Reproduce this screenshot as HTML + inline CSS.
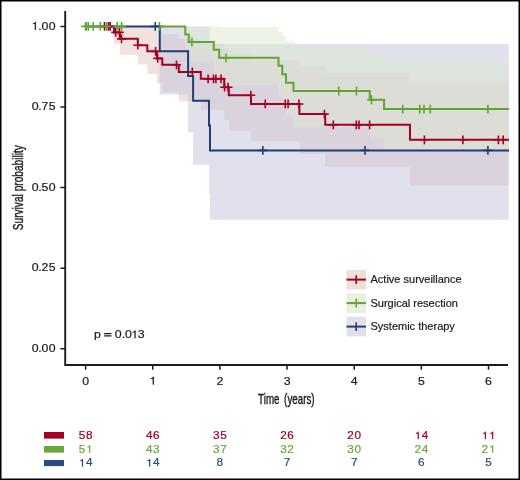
<!DOCTYPE html>
<html><head><meta charset="utf-8"><style>
html,body{margin:0;padding:0;background:#fff;}
svg{display:block;will-change:transform;}
text{font-family:"Liberation Sans",sans-serif;}
</style></head><body>
<svg width="520" height="480" viewBox="0 0 520 480">
<rect x="0" y="0" width="520" height="480" fill="#fff"/>
<path d="M114.00,26.40L114.00,26.40L120.00,26.40L120.00,26.40L137.80,26.40L137.80,26.40L147.30,26.40L147.30,26.89L157.00,26.89L157.00,30.42L162.30,30.42L162.30,34.36L178.80,34.36L178.80,38.66L200.80,38.66L200.80,43.27L224.20,43.27L224.20,48.33L228.80,48.33L228.80,53.82L251.00,53.82L251.00,59.70L299.40,59.70L299.40,66.21L325.20,66.21L325.20,73.28L410.00,73.28L410.00,81.08L508.75,81.08L508.75,185.49L410.00,185.49L410.00,166.64L325.20,166.64L325.20,153.89L299.40,153.89L299.40,141.35L251.00,141.35L251.00,130.72L228.80,130.72L228.80,120.19L224.20,120.19L224.20,110.14L200.80,110.14L200.80,101.16L178.80,101.16L178.80,92.18L162.30,92.18L162.30,83.15L157.00,83.15L157.00,73.99L147.30,73.99L147.30,64.58L137.80,64.58L137.80,54.69L120.00,54.69L120.00,43.75L114.00,43.75Z" fill="rgb(241,226,223)" fill-opacity="1.0"/>
<path d="M159.75,26.40L159.75,26.40L188.10,26.40L188.10,26.40L193.10,26.40L193.10,26.40L209.00,26.40L209.00,28.11L210.00,28.11L210.00,43.88L508.75,43.88L508.75,219.68L210.00,219.68L210.00,193.43L209.00,193.43L209.00,164.64L193.10,164.64L193.10,132.42L188.10,132.42L188.10,94.41L159.75,94.41Z" fill="rgb(195,195,219)" fill-opacity="0.5"/>
<path d="M185.30,26.40L185.30,26.40L188.75,26.40L188.75,26.40L213.75,26.40L213.75,26.40L219.20,26.40L219.20,27.03L278.50,27.03L278.50,31.46L282.25,31.46L282.25,36.37L286.00,36.37L286.00,41.65L293.50,41.65L293.50,47.35L369.75,47.35L369.75,53.51L384.10,53.51L384.10,60.12L508.75,60.12L508.75,149.91L384.10,149.91L384.10,138.50L369.75,138.50L369.75,127.26L293.50,127.26L293.50,116.64L286.00,116.64L286.00,106.53L282.25,106.53L282.25,96.04L278.50,96.04L278.50,85.08L219.20,85.08L219.20,73.90L213.75,73.90L213.75,61.82L188.75,61.82L188.75,48.59L185.30,48.59Z" fill="rgb(219,231,207)" fill-opacity="0.5"/>
<path d="M111.00,26.40H114.00V32.40H120.00V38.85H137.80V45.20H147.30V51.35H157.00V58.40H162.30V64.85H178.80V71.95H200.80V78.85H224.20V87.20H228.80V95.20H251.00V103.95H299.40V114.10H325.20V124.85H410.00V139.80H509.00" stroke="#a40026" stroke-width="2.0" fill="none"/>
<path d="M159.00,26.40H185.30V34.50H188.75V42.00H213.75V49.70H219.20V57.85H278.50V65.80H282.25V74.20H286.00V82.70H293.50V91.00H369.75V99.75H384.10V109.04H509.00" stroke="#60a535" stroke-width="2.0" fill="none"/>
<path d="M85.60,26.40H159.75V51.20H188.10V75.99H193.10V100.79H209.00V125.58H210.00V150.38H509.00" stroke="#1f3e76" stroke-width="2.0" fill="none"/>
<path d="M100.10,26.40H108.90M104.50,22.00V30.80M100.10,26.40H108.90M104.50,22.00V30.80M104.00,26.40H112.80M108.40,22.00V30.80M105.80,26.40H114.60M110.20,22.00V30.80M111.20,32.40H120.00M115.60,28.00V36.80M115.00,32.40H123.80M119.40,28.00V36.80M117.10,38.85H125.90M121.50,34.45V43.25M133.40,45.20H142.20M137.80,40.80V49.60M151.20,51.35H160.00M155.60,46.95V55.75M153.30,58.40H162.10M157.70,54.00V62.80M172.10,64.85H180.90M176.50,60.45V69.25M187.90,71.95H196.70M192.30,67.55V76.35M203.70,78.85H212.50M208.10,74.45V83.25M209.10,78.85H217.90M213.50,74.45V83.25M211.50,78.85H220.30M215.90,74.45V83.25M216.60,78.85H225.40M221.00,74.45V83.25M220.20,87.20H229.00M224.60,82.80V91.60M223.70,87.20H232.50M228.10,82.80V91.60M246.40,95.20H255.20M250.80,90.80V99.60M260.85,103.95H269.65M265.25,99.55V108.35M280.85,103.95H289.65M285.25,99.55V108.35M283.70,103.95H292.50M288.10,99.55V108.35M294.60,103.95H303.40M299.00,99.55V108.35M320.00,114.10H328.80M324.40,109.70V118.50M328.90,124.85H337.70M333.30,120.45V129.25M351.90,124.85H360.70M356.30,120.45V129.25M351.90,124.85H360.70M356.30,120.45V129.25M354.60,124.85H363.40M359.00,120.45V129.25M365.20,124.85H374.00M369.60,120.45V129.25M365.20,124.85H374.00M369.60,120.45V129.25M420.00,139.80H428.80M424.40,135.40V144.20M458.50,139.80H467.30M462.90,135.40V144.20M458.50,139.80H467.30M462.90,135.40V144.20M494.00,139.80H502.80M498.40,135.40V144.20M498.80,139.80H507.60M503.20,135.40V144.20" stroke="#a40026" stroke-width="1.6" fill="none"/>
<path d="M81.10,26.40H89.90M85.50,22.00V30.80M81.80,26.40H90.60M86.20,22.00V30.80M83.90,26.40H92.70M88.30,22.00V30.80M88.80,26.40H97.60M93.20,22.00V30.80M95.90,26.40H104.70M100.30,22.00V30.80M102.10,26.40H110.90M106.50,22.00V30.80M112.80,26.40H121.60M117.20,22.00V30.80M117.20,26.40H126.00M121.60,22.00V30.80M155.00,26.40H163.80M159.40,22.00V30.80M187.50,42.00H196.30M191.90,37.60V46.40M221.60,57.85H230.40M226.00,53.45V62.25M334.35,91.00H343.15M338.75,86.60V95.40M352.10,91.00H360.90M356.50,86.60V95.40M367.10,99.75H375.90M371.50,95.35V104.15M398.35,109.04H407.15M402.75,104.64V113.44M415.35,109.04H424.15M419.75,104.64V113.44M419.60,109.04H428.40M424.00,104.64V113.44M425.85,109.04H434.65M430.25,104.64V113.44M483.50,109.04H492.30M487.90,104.64V113.44" stroke="#60a535" stroke-width="1.6" fill="none"/>
<path d="M150.85,26.40H159.65M155.25,22.00V30.80M258.45,150.38H267.25M262.85,145.98V154.78M360.60,150.38H369.40M365.00,145.98V154.78M483.50,150.38H492.30M487.90,145.98V154.78" stroke="#1f3e76" stroke-width="1.6" fill="none"/>
<path d="M65.2,11V365H508" stroke="#1c1c1c" stroke-width="1.9" fill="none"/>
<path d="M60.4,26.40H65.2M60.4,106.99H65.2M60.4,187.57H65.2M60.4,268.16H65.2M60.4,348.75H65.2M85.60,365V369.7M152.75,365V369.7M219.90,365V369.7M287.05,365V369.7M354.20,365V369.7M421.35,365V369.7M488.50,365V369.7" stroke="#1c1c1c" stroke-width="1.5" fill="none"/>
<polygon points="35.90,29.73 35.90,21.93 35.04,21.93 34.72,22.69 33.98,23.13 32.96,23.26 32.96,24.01 34.82,24.01 34.82,29.73" fill="#1c1c1c" stroke="#1c1c1c" stroke-width="0.2" stroke-linejoin="round"/>
<text transform="scale(1.12,1)" x="34.05 36.99 43.64" y="29.73" font-size="11" fill="#1c1c1c" stroke="#1c1c1c" stroke-width="0.2">.00</text>
<text transform="scale(1.12,1)" x="28.28 34.05 36.98 43.65" y="110.32" font-size="11" fill="#1c1c1c" stroke="#1c1c1c" stroke-width="0.2">0.75</text>
<text transform="scale(1.12,1)" x="28.28 34.05 37.00 43.64" y="190.91" font-size="11" fill="#1c1c1c" stroke="#1c1c1c" stroke-width="0.2">0.50</text>
<text transform="scale(1.12,1)" x="28.28 34.05 36.99 43.65" y="271.49" font-size="11" fill="#1c1c1c" stroke="#1c1c1c" stroke-width="0.2">0.25</text>
<text transform="scale(1.12,1)" x="28.28 34.05 36.99 43.64" y="352.08" font-size="11" fill="#1c1c1c" stroke="#1c1c1c" stroke-width="0.2">0.00</text>
<text transform="scale(1.12,1)" x="73.37" y="384.60" font-size="11" fill="#1c1c1c" stroke="#1c1c1c" stroke-width="0.2">0</text>
<polygon points="153.82,384.60 153.82,376.80 152.96,376.80 152.64,377.56 151.90,378.00 150.88,378.13 150.88,378.88 152.74,378.88 152.74,384.60" fill="#1c1c1c" stroke="#1c1c1c" stroke-width="0.2" stroke-linejoin="round"/>
<text transform="scale(1.12,1)" x="193.28" y="384.60" font-size="11" fill="#1c1c1c" stroke="#1c1c1c" stroke-width="0.2">2</text>
<text transform="scale(1.12,1)" x="253.27" y="384.60" font-size="11" fill="#1c1c1c" stroke="#1c1c1c" stroke-width="0.2">3</text>
<text transform="scale(1.12,1)" x="313.23" y="384.60" font-size="11" fill="#1c1c1c" stroke="#1c1c1c" stroke-width="0.2">4</text>
<text transform="scale(1.12,1)" x="373.16" y="384.60" font-size="11" fill="#1c1c1c" stroke="#1c1c1c" stroke-width="0.2">5</text>
<text transform="scale(1.12,1)" x="433.06" y="384.60" font-size="11" fill="#1c1c1c" stroke="#1c1c1c" stroke-width="0.2">6</text>
<text transform="translate(258.3,404.4) scale(0.7,1)" x="-0.3" font-size="14" stroke="#1c1c1c" stroke-width="0.4" fill="#1c1c1c">Time</text>
<text transform="translate(313.9,404.4) scale(0.7,1)" x="1.0" text-anchor="end" font-size="14" stroke="#1c1c1c" stroke-width="0.4" fill="#1c1c1c">(years)</text>
<text transform="translate(23.2,187.7) rotate(-90) scale(0.724,1)" text-anchor="middle" font-size="14" stroke="#1c1c1c" stroke-width="0.4" fill="#1c1c1c">Survival probability</text>
<text transform="scale(1.12,1)" x="84.01" y="338.30" font-size="11" fill="#1c1c1c" stroke="#1c1c1c" stroke-width="0.2">p</text>
<path d="M104.1,333.6H111.5M104.1,335.8H111.5" stroke="#1c1c1c" stroke-width="1.25" fill="none"/>
<polygon points="135.62,338.30 135.62,330.50 134.76,330.50 134.44,331.26 133.70,331.70 132.68,331.83 132.68,332.58 134.54,332.58 134.54,338.30" fill="#1c1c1c" stroke="#1c1c1c" stroke-width="0.2" stroke-linejoin="round"/>
<text transform="scale(1.12,1)" x="102.43 108.74 111.54 123.09" y="338.30" font-size="11" fill="#1c1c1c" stroke="#1c1c1c" stroke-width="0.2">0.03</text>
<rect x="346.5" y="269.80" width="19.5" height="19.6" fill="rgb(240,223,217)"/>
<path d="M346.5,279.60H366" stroke="#a40026" stroke-width="2" fill="none"/>
<path d="M356.2,275.30V283.90" stroke="#a40026" stroke-width="1.6" fill="none"/>
<text x="370.5" y="283.40" font-size="11" fill="#1c1c1c" stroke="#1c1c1c" stroke-width="0.2">Active surveillance</text>
<rect x="346.5" y="293.30" width="19.5" height="19.6" fill="rgb(232,240,226)"/>
<path d="M346.5,303.10H366" stroke="#60a535" stroke-width="2" fill="none"/>
<path d="M356.2,298.80V307.40" stroke="#60a535" stroke-width="1.6" fill="none"/>
<text x="370.5" y="306.90" font-size="11" fill="#1c1c1c" stroke="#1c1c1c" stroke-width="0.2">Surgical resection</text>
<rect x="346.5" y="316.80" width="19.5" height="19.6" fill="rgb(225,225,236)"/>
<path d="M346.5,326.60H366" stroke="#1f3e76" stroke-width="2" fill="none"/>
<path d="M356.2,322.30V330.90" stroke="#1f3e76" stroke-width="1.6" fill="none"/>
<text x="370.5" y="330.40" font-size="11" fill="#1c1c1c" stroke="#1c1c1c" stroke-width="0.2">Systemic therapy</text>
<rect x="44" y="432" width="20" height="6.6" fill="#a40026"/>
<text transform="scale(1.12,1)" x="70.30 76.72" y="439.10" font-size="10.5" fill="#a40026" stroke="#a40026" stroke-width="0.2">58</text>
<text transform="scale(1.12,1)" x="130.28 136.64" y="439.10" font-size="10.5" fill="#a40026" stroke="#a40026" stroke-width="0.2">46</text>
<text transform="scale(1.12,1)" x="190.24 196.64" y="439.10" font-size="10.5" fill="#a40026" stroke="#a40026" stroke-width="0.2">35</text>
<text transform="scale(1.12,1)" x="250.16 256.55" y="439.10" font-size="10.5" fill="#a40026" stroke="#a40026" stroke-width="0.2">26</text>
<text transform="scale(1.12,1)" x="310.12 316.54" y="439.10" font-size="10.5" fill="#a40026" stroke="#a40026" stroke-width="0.2">20</text>
<polygon points="418.76,439.10 418.76,431.66 417.93,431.66 417.63,432.38 416.92,432.80 415.94,432.93 415.94,433.64 417.72,433.64 417.72,439.10" fill="#a40026" stroke="#a40026" stroke-width="0.2" stroke-linejoin="round"/>
<text transform="scale(1.12,1)" x="376.53" y="439.10" font-size="10.5" fill="#a40026" stroke="#a40026" stroke-width="0.2">4</text>
<polygon points="485.91,439.10 485.91,431.66 485.08,431.66 484.78,432.38 484.07,432.80 483.09,432.93 483.09,433.64 484.87,433.64 484.87,439.10" fill="#a40026" stroke="#a40026" stroke-width="0.2" stroke-linejoin="round"/>
<polygon points="493.11,439.10 493.11,431.66 492.28,431.66 491.98,432.38 491.27,432.80 490.29,432.93 490.29,433.64 492.07,433.64 492.07,439.10" fill="#a40026" stroke="#a40026" stroke-width="0.2" stroke-linejoin="round"/>
<rect x="44" y="446" width="20" height="6.6" fill="#6aa73c"/>
<polygon points="90.21,452.80 90.21,445.36 89.38,445.36 89.08,446.08 88.37,446.50 87.39,446.63 87.39,447.34 89.17,447.34 89.17,452.80" fill="#6aa73c" stroke="#6aa73c" stroke-width="0.2" stroke-linejoin="round"/>
<text transform="scale(1.12,1)" x="70.30" y="452.80" font-size="10.5" fill="#6aa73c" stroke="#6aa73c" stroke-width="0.2">5</text>
<text transform="scale(1.12,1)" x="130.28 136.71" y="452.80" font-size="10.5" fill="#6aa73c" stroke="#6aa73c" stroke-width="0.2">43</text>
<text transform="scale(1.12,1)" x="190.24 196.63" y="452.80" font-size="10.5" fill="#6aa73c" stroke="#6aa73c" stroke-width="0.2">37</text>
<text transform="scale(1.12,1)" x="250.19 256.59" y="452.80" font-size="10.5" fill="#6aa73c" stroke="#6aa73c" stroke-width="0.2">32</text>
<text transform="scale(1.12,1)" x="310.15 316.54" y="452.80" font-size="10.5" fill="#6aa73c" stroke="#6aa73c" stroke-width="0.2">30</text>
<text transform="scale(1.12,1)" x="370.07 376.53" y="452.80" font-size="10.5" fill="#6aa73c" stroke="#6aa73c" stroke-width="0.2">24</text>
<polygon points="493.11,452.80 493.11,445.36 492.28,445.36 491.98,446.08 491.27,446.50 490.29,446.63 490.29,447.34 492.07,447.34 492.07,452.80" fill="#6aa73c" stroke="#6aa73c" stroke-width="0.2" stroke-linejoin="round"/>
<text transform="scale(1.12,1)" x="430.03" y="452.80" font-size="10.5" fill="#6aa73c" stroke="#6aa73c" stroke-width="0.2">2</text>
<rect x="44" y="460" width="20" height="6.1" fill="#2c4c80"/>
<polygon points="83.01,466.50 83.01,459.06 82.18,459.06 81.88,459.78 81.17,460.20 80.19,460.33 80.19,461.04 81.97,461.04 81.97,466.50" fill="#2c4c80" stroke="#2c4c80" stroke-width="0.2" stroke-linejoin="round"/>
<text transform="scale(1.12,1)" x="76.76" y="466.50" font-size="10.5" fill="#2c4c80" stroke="#2c4c80" stroke-width="0.2">4</text>
<polygon points="150.16,466.50 150.16,459.06 149.33,459.06 149.03,459.78 148.32,460.20 147.34,460.33 147.34,461.04 149.12,461.04 149.12,466.50" fill="#2c4c80" stroke="#2c4c80" stroke-width="0.2" stroke-linejoin="round"/>
<text transform="scale(1.12,1)" x="136.71" y="466.50" font-size="10.5" fill="#2c4c80" stroke="#2c4c80" stroke-width="0.2">4</text>
<text transform="scale(1.12,1)" x="193.42" y="466.50" font-size="10.5" fill="#2c4c80" stroke="#2c4c80" stroke-width="0.2">8</text>
<text transform="scale(1.12,1)" x="253.37" y="466.50" font-size="10.5" fill="#2c4c80" stroke="#2c4c80" stroke-width="0.2">7</text>
<text transform="scale(1.12,1)" x="313.33" y="466.50" font-size="10.5" fill="#2c4c80" stroke="#2c4c80" stroke-width="0.2">7</text>
<text transform="scale(1.12,1)" x="373.25" y="466.50" font-size="10.5" fill="#2c4c80" stroke="#2c4c80" stroke-width="0.2">6</text>
<text transform="scale(1.12,1)" x="433.25" y="466.50" font-size="10.5" fill="#2c4c80" stroke="#2c4c80" stroke-width="0.2">5</text>

<rect x="0" y="0" width="520" height="480" fill="none" stroke="#000" stroke-width="3"/>
</svg>
</body></html>
